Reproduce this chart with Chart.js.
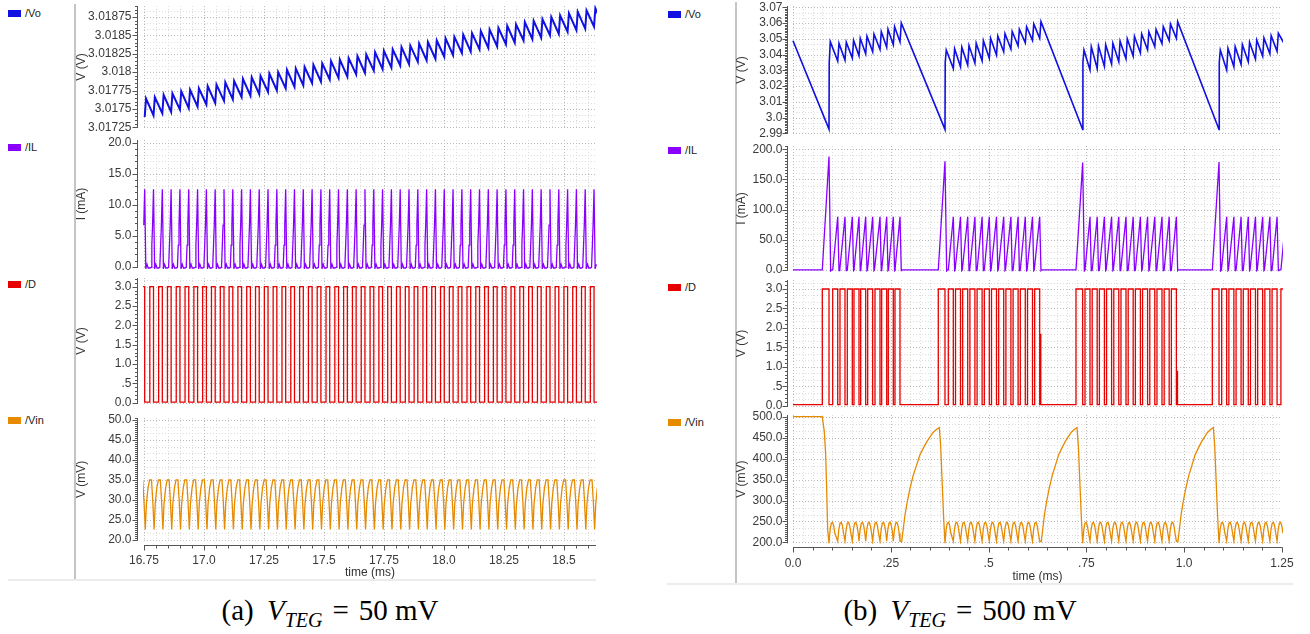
<!DOCTYPE html>
<html>
<head>
<meta charset="utf-8">
<script src="https://cdn.jsdelivr.net/npm/chart.js@4.4.1/dist/chart.umd.min.js"></script>
<style>
  body { margin: 0; width: 1310px; height: 634px; background: #fff; position: relative; overflow: hidden; font-family: "Liberation Sans", Arial, sans-serif; }
  canvas { position: absolute; }
  .sep { position: absolute; background: #c4c4c4; width: 1.5px; }
  .base { position: absolute; background: #ececec; height: 2px; }
  .leg { position: absolute; height: 14px; display: flex; align-items: center; font-size: 11px; color: #222; }
  .leg span { display: inline-block; width: 13px; height: 7px; margin-right: 4px; }
  .cap { position: absolute; width: 440px; text-align: center; font-family: "Liberation Serif", serif; font-size: 29px; color: #000; white-space: nowrap; }
  .cap sub { font-size: 20px; }
  .cap .eq { margin: 0 10px; }
  .cap .sp { margin-left: 6px; }
</style>
</head>
<body>
<div class="sep" style="left:74px;top:4px;height:576px"></div>
<div class="sep" style="left:735px;top:2px;height:582px"></div>
<div class="base" style="left:8px;top:579px;width:588px"></div>
<div class="base" style="left:667px;top:583px;width:626px"></div>

<div class="leg" style="left:8px;top:6px"><span style="background:#1010e0"></span>/Vo</div>
<div class="leg" style="left:8px;top:140px"><span style="background:#8a00ff"></span>/IL</div>
<div class="leg" style="left:8px;top:277px"><span style="background:#e60000"></span>/D</div>
<div class="leg" style="left:8px;top:413px"><span style="background:#e68a00"></span>/Vin</div>
<div class="leg" style="left:668px;top:7px"><span style="background:#1010e0"></span>/Vo</div>
<div class="leg" style="left:668px;top:143px"><span style="background:#8a00ff"></span>/IL</div>
<div class="leg" style="left:668px;top:280px"><span style="background:#e60000"></span>/D</div>
<div class="leg" style="left:668px;top:415px"><span style="background:#e68a00"></span>/Vin</div>

<div class="cap" style="left:110px;top:594px">(a)<span class="sp"></span> <i>V</i><sub><i>TEG</i></sub><span class="eq">=</span>50 mV</div>
<div class="cap" style="left:740px;top:594px">(b)<span class="sp"></span> <i>V</i><sub><i>TEG</i></sub><span class="eq">=</span>500 mV</div>

<script>
// ---------- (a) V_TEG = 50 mV, time in ms ----------
// switch turn-on instants
const leftCycle = [
  16.7375, 16.7742, 16.8109, 16.8476, 16.8843, 16.9210, 16.9578, 16.9945, 17.0312, 17.0679,
  17.1046, 17.1413, 17.1780, 17.2147, 17.2514, 17.2881, 17.3249, 17.3616, 17.3983, 17.4350,
  17.4717, 17.5084, 17.5451, 17.5818, 17.6185, 17.6552, 17.6920, 17.7287, 17.7654, 17.8021,
  17.8388, 17.8755, 17.9122, 17.9489, 17.9856, 18.0223, 18.0591, 18.0958, 18.1325, 18.1692,
  18.2059, 18.2426, 18.2793, 18.3160, 18.3527, 18.3894, 18.4262, 18.4629, 18.4996, 18.5363,
  18.5730, 18.6097, 18.6464
];
const leftVoTrough = [
  3.01739, 3.01741, 3.01744, 3.01746, 3.01749, 3.01751, 3.01753, 3.01756, 3.01758, 3.01761,
  3.01763, 3.01766, 3.01768, 3.01770, 3.01773, 3.01775, 3.01778, 3.01780, 3.01782, 3.01785,
  3.01787, 3.01790, 3.01792, 3.01794, 3.01797, 3.01799, 3.01802, 3.01804, 3.01806, 3.01809,
  3.01811, 3.01814, 3.01816, 3.01818, 3.01821, 3.01823, 3.01826, 3.01828, 3.01831, 3.01833,
  3.01835, 3.01838, 3.01840, 3.01843, 3.01845, 3.01847, 3.01850, 3.01852, 3.01855, 3.01857,
  3.01859, 3.01862, 3.01864
];
const leftVoPeak = [
  3.01764, 3.01766, 3.01769, 3.01771, 3.01774, 3.01776, 3.01778, 3.01781, 3.01783, 3.01786,
  3.01788, 3.01791, 3.01793, 3.01795, 3.01798, 3.01800, 3.01803, 3.01805, 3.01807, 3.01810,
  3.01812, 3.01815, 3.01817, 3.01819, 3.01822, 3.01824, 3.01827, 3.01829, 3.01831, 3.01834,
  3.01836, 3.01839, 3.01841, 3.01843, 3.01846, 3.01848, 3.01851, 3.01853, 3.01856, 3.01858,
  3.01860, 3.01863, 3.01865, 3.01868, 3.01870, 3.01872, 3.01875, 3.01877, 3.01880, 3.01882,
  3.01884, 3.01887
];
const leftVoAt = [0.0154, 0.0209];   // trough / peak offset inside a cycle
// one switching period: [offset ms, value]
const leftDShape = [[0, 0.02], [0, 3.0], [0.0154, 3.0], [0.0154, 0.02]];
const leftILShape = [[0, -0.2], [0.0050, -0.1], [0.0085, 3.5], [0.0115, 6.7], [0.0154, 12.5], [0.0200, -0.3], [0.0250, 0.4], [0.0300, -0.2]];
const leftVinShape = [[0.0071, 35.0], [0.0125, 29.5], [0.0179, 22.6], [0.0225, 29.0], [0.0292, 33.0], [0.0358, 35.0]];

const leftVoTicks = [3.01725, 3.0175, 3.01775, 3.018, 3.01825, 3.0185, 3.01875];
const leftVoLabels = ['3.01725', '3.0175', '3.01775', '3.018', '3.01825', '3.0185', '3.01875'];
const leftILTicks = [0, 5, 10, 15, 20];
const leftILLabels = ['0.0', '5.0', '10.0', '15.0', '20.0'];
const dTicks = [0, 0.5, 1, 1.5, 2, 2.5, 3];
const dLabels = ['0.0', '.5', '1.0', '1.5', '2.0', '2.5', '3.0'];
const leftVinTicks = [20, 25, 30, 35, 40, 45, 50];
const leftVinLabels = ['20.0', '25.0', '30.0', '35.0', '40.0', '45.0', '50.0'];
const leftTimeTicks = [16.75, 17, 17.25, 17.5, 17.75, 18, 18.25, 18.5];
const leftTimeLabels = ['16.75', '17.0', '17.25', '17.5', '17.75', '18.0', '18.25', '18.5'];

// ---------- (b) V_TEG = 500 mV ----------
const rSpikeRise = [0.0749, 0.3714, 0.7234, 1.0719];
const rSpikePeak = [0.0920, 0.3885, 0.7405, 1.0890];
const rSpikeIL = [188, 180, 178, 179];
// inductor current peaks (switch turn-off) inside each burst
const rBurst1 = [0.1143, 0.1329, 0.1516, 0.1687, 0.1858, 0.2037, 0.2224, 0.2395, 0.2564, 0.2735];
const rBurst2 = [0.4098, 0.4282, 0.4466, 0.4650, 0.4834, 0.5018, 0.5202, 0.5386, 0.5570, 0.5754, 0.5938, 0.6122, 0.6306];
const rBurst3 = [0.7592, 0.7776, 0.7960, 0.8144, 0.8328, 0.8512, 0.8696, 0.8880, 0.9064, 0.9248, 0.9432, 0.9616, 0.9800];
const rBurst4 = [1.1086, 1.1270, 1.1454, 1.1638, 1.1822, 1.2006, 1.2190, 1.2374, 1.2600];

const rVoStart = 3.0488;
const rVoLow = [2.9927, 2.9925, 2.9925, 2.9925];
const rVoMid = [3.0348, 3.0350, 3.0350, 3.0350];
const rVoTop = [3.0482, 3.0429, 3.0429, 3.0429];
const rVoTr1 = [3.0359, 3.0365, 3.0378, 3.0392, 3.0405, 3.0418, 3.0432, 3.0446, 3.0462, 3.0480];
const rVoPk1 = [3.0471, 3.0478, 3.0490, 3.0503, 3.0516, 3.0530, 3.0545, 3.0560, 3.0577, 3.0600];
const rVoTr2 = [3.0312, 3.0322, 3.0333, 3.0345, 3.0360, 3.0376, 3.0397, 3.0418, 3.0435, 3.0455, 3.0475, 3.0490, 3.0503];
const rVoPk2 = [3.0437, 3.0447, 3.0457, 3.0472, 3.0488, 3.0503, 3.0518, 3.0533, 3.0546, 3.0560, 3.0577, 3.0594, 3.0609];
const rVoTr3 = [3.0302, 3.0312, 3.0325, 3.0340, 3.0355, 3.0372, 3.0390, 3.0410, 3.0430, 3.0450, 3.0470, 3.0488, 3.0503];
const rVoPk3 = [3.0450, 3.0454, 3.0462, 3.0472, 3.0485, 3.0500, 3.0515, 3.0530, 3.0545, 3.0560, 3.0577, 3.0594, 3.0609];
const rVoTr4 = [3.0302, 3.0323, 3.0338, 3.0355, 3.0372, 3.0390, 3.0405, 3.0420, 3.0450];
const rVoPk4 = [3.0439, 3.0450, 3.0463, 3.0478, 3.0492, 3.0505, 3.0520, 3.0535];

const rDShape = [[-0.0128, 0.03], [-0.0128, 3.0], [0, 3.0], [0, 0.03]];
const rDGlitch = [[], [[0.6330, 0.03], [0.6332, 1.85], [0.6336, 0.03]], [[0.9825, 0.03], [0.9827, 0.90], [0.9831, 0.03]], []];
const rILShape = [[-0.0128, 0], [0, 88], [0.0033, -1], [0.0045, 0]];
const rVinShape = [[0, 203], [0.0030, 232], [0.0060, 246], [0.0090, 248], [0.0120, 240], [0.0150, 222]];
const rVinDrop = [
  [[0, 500], [0.0749, 500], [0.0800, 465], [0.0835, 410], [0.0860, 330], [0.0887, 230], [0.0920, 198]],
  [[0.3775, 430], [0.3810, 350], [0.3850, 260], [0.3885, 198]],
  [[0.7295, 430], [0.7330, 350], [0.7370, 260], [0.7405, 198]],
  [[1.0780, 430], [1.0815, 350], [1.0855, 260], [1.0890, 198]]
];
const rVinRecover = [
  [[0.2778, 202], [0.2863, 266], [0.2923, 298], [0.2991, 329], [0.3076, 361], [0.3162, 385], [0.3246, 409], [0.3332, 425], [0.3418, 440], [0.3502, 452], [0.3587, 463], [0.3673, 470], [0.3740, 474]],
  [[0.6347, 202], [0.6427, 266], [0.6484, 298], [0.6549, 329], [0.6630, 361], [0.6711, 385], [0.6791, 409], [0.6873, 425], [0.6954, 440], [0.7034, 452], [0.7115, 463], [0.7196, 470], [0.7260, 474]],
  [[0.9840, 202], [0.9920, 266], [0.9977, 298], [1.0041, 329], [1.0121, 361], [1.0201, 385], [1.0280, 409], [1.0361, 425], [1.0442, 440], [1.0521, 452], [1.0601, 463], [1.0682, 470], [1.0745, 474]]
];

const rVoTicks = [2.99, 3.0, 3.01, 3.02, 3.03, 3.04, 3.05, 3.06, 3.07];
const rVoLabels = ['2.99', '3.0', '3.01', '3.02', '3.03', '3.04', '3.05', '3.06', '3.07'];
const rILTicks = [0, 50, 100, 150, 200];
const rILLabels = ['0.0', '50.0', '100.0', '150.0', '200.0'];
const rVinTicks = [200, 250, 300, 350, 400, 450, 500];
const rVinLabels = ['200.0', '250.0', '300.0', '350.0', '400.0', '450.0', '500.0'];
const rTimeTicks = [0, 0.25, 0.5, 0.75, 1.0, 1.25];
const rTimeLabels = ['0.0', '.25', '.5', '.75', '1.0', '1.25'];

// ---------- build point lists ----------
const pt = (x, y) => ({x, y});
const repeat = (starts, shape) => {
  const out = [];
  starts.forEach(t => shape.forEach(([dt, v]) => out.push(pt(t + dt, v))));
  return out;
};

const leftVo = [];
leftCycle.forEach((t, i) => {
  leftVo.push(pt(t + leftVoAt[0], leftVoTrough[i]));
  if (i < leftVoPeak.length) leftVo.push(pt(t + leftVoAt[1], leftVoPeak[i]));
});
const leftD = repeat(leftCycle, leftDShape);
const leftIL = repeat(leftCycle, leftILShape);
const leftVin = repeat(leftCycle, leftVinShape);

const rBursts = [rBurst1, rBurst2, rBurst3, rBurst4];
const rVoTr = [rVoTr1, rVoTr2, rVoTr3, rVoTr4];
const rVoPk = [rVoPk1, rVoPk2, rVoPk3, rVoPk4];

const rVo = [pt(0, rVoStart)];
rBursts.forEach((b, i) => {
  const ts = rSpikePeak[i];
  rVo.push(pt(ts, rVoLow[i]), pt(ts + 0.0006, rVoMid[i]), pt(ts + 0.0033, rVoTop[i]));
  b.forEach((t, j) => {
    rVo.push(pt(t, rVoTr[i][j]));
    if (j < rVoPk[i].length) rVo.push(pt(t + 0.0033, rVoPk[i][j]));
  });
});

const rD = [pt(0, 0.03)];
const rIL = [pt(0, 0)];
rBursts.forEach((b, i) => {
  rD.push(pt(rSpikeRise[i], 0.03), pt(rSpikeRise[i], 3.0), pt(rSpikePeak[i], 3.0), pt(rSpikePeak[i], 0.03));
  rD.push(...repeat(b, rDShape));
  rDGlitch[i].forEach(([t, v]) => rD.push(pt(t, v)));
  rIL.push(pt(rSpikeRise[i], 0), pt(rSpikePeak[i], rSpikeIL[i]), pt(rSpikePeak[i] + 0.0043, -1.5), pt(rSpikePeak[i] + 0.006, 0));
  rIL.push(...repeat(b, rILShape));
});

const rVin = [];
rBursts.forEach((b, i) => {
  rVinDrop[i].forEach(([t, v]) => rVin.push(pt(t, v)));
  rVinShape.slice(1).forEach(([dt, v]) => rVin.push(pt(rSpikePeak[i] + dt, v)));
  const last = i < rVinRecover.length ? b.length - 1 : b.length;
  b.forEach((t, j) => {
    const shape = j < last ? rVinShape : rVinShape.slice(0, 1);
    shape.forEach(([dt, v]) => rVin.push(pt(t + dt, v)));
  });
  if (rVinRecover[i]) rVinRecover[i].forEach(([t, v]) => rVin.push(pt(t, v)));
});

// ---------- drawing ----------
const FONT = 'Liberation Sans';
const TICK_FONT = {family: FONT, size: 12};

function steps(majors, n, lo, hi) {
  const d = (majors[1] - majors[0]) / n;
  const out = [];
  let v = majors[0];
  while (v - d >= lo - 1e-12) v -= d;
  for (; v <= hi + 1e-12; v += d) out.push(v);
  return out;
}

const deco = {
  id: 'deco',
  beforeDatasetsDraw(chart, args, o) {
    const {ctx, chartArea: a, scales: {x, y}} = chart;
    ctx.save();
    ctx.beginPath();
    ctx.rect(a.left, a.top, a.right - a.left, a.bottom - a.top);
    ctx.clip();
    ctx.lineWidth = 1;
    ctx.setLineDash([1, 2]);
    const h = (v, c) => {
      const p = Math.round(y.getPixelForValue(v)) + 0.5;
      ctx.strokeStyle = c; ctx.beginPath(); ctx.moveTo(a.left, p); ctx.lineTo(a.right, p); ctx.stroke();
    };
    const w = (v, c) => {
      const p = Math.round(x.getPixelForValue(v)) + 0.5;
      ctx.strokeStyle = c; ctx.beginPath(); ctx.moveTo(p, a.top); ctx.lineTo(p, a.bottom); ctx.stroke();
    };
    steps(o.yMaj, o.yGrid, y.min, y.max).forEach(v => h(v, '#dcdcdc'));
    steps(o.xMaj, o.xGrid, x.min, x.max).forEach(v => w(v, '#dcdcdc'));
    o.yMaj.forEach(v => h(v, '#b9b9b9'));
    o.xMaj.forEach(v => w(v, '#b9b9b9'));
    ctx.restore();
  },
  afterDraw(chart, args, o) {
    const {ctx, chartArea: a, scales: {x, y}} = chart;
    ctx.save();
    ctx.strokeStyle = '#555';
    ctx.lineWidth = 1;
    ctx.beginPath();
    const ax = Math.round(a.left - o.gap) + 0.5;
    ctx.moveTo(ax, a.top); ctx.lineTo(ax, a.bottom);
    steps(o.yMaj, o.yTick, y.min, y.max).forEach(v => {
      const p = Math.round(y.getPixelForValue(v)) + 0.5;
      ctx.moveTo(ax, p); ctx.lineTo(ax - 2.5, p);
    });
    o.yMaj.forEach(v => {
      const p = Math.round(y.getPixelForValue(v)) + 0.5;
      ctx.moveTo(ax, p); ctx.lineTo(ax - 5, p);
    });
    if (o.showX) {
      const ay = Math.round(a.bottom + 4) + 0.5;
      ctx.moveTo(a.left, ay); ctx.lineTo(a.right, ay);
      steps(o.xMaj, o.xTick, x.min, x.max).forEach(v => {
        const p = Math.round(x.getPixelForValue(v)) + 0.5;
        ctx.moveTo(p, ay); ctx.lineTo(p, ay + 3);
      });
      o.xMaj.forEach(v => {
        const p = Math.round(x.getPixelForValue(v)) + 0.5;
        ctx.moveTo(p, ay); ctx.lineTo(p, ay + 5);
      });
    }
    ctx.stroke();
    ctx.restore();
  }
};

function subplot(g, s) {
  const M = 24;
  const showX = !!s.showX;
  const c = document.createElement('canvas');
  const top = g.top - M;
  const bottom = g.bottom + (showX ? g.xh : 0) + M;
  c.width = g.cw; c.height = bottom - top;
  c.style.left = g.cl + 'px'; c.style.top = top + 'px';
  document.body.appendChild(c);
  const yW = g.left - g.cl;
  new Chart(c, {
    type: 'line',
    data: {datasets: [{data: s.data, borderColor: s.color, borderWidth: s.lw, pointRadius: 0, tension: 0, fill: false, clip: 1}]},
    options: {
      responsive: false, animation: false, devicePixelRatio: 1, events: [], parsing: false,
      layout: {padding: {top: M, left: 0, right: g.cl + g.cw - g.right, bottom: M}},
      plugins: {
        legend: {display: false}, tooltip: {enabled: false},
        deco: {yMaj: s.yTicks, yGrid: s.yGrid, yTick: s.yTick, xMaj: g.xTicks, xGrid: g.xGrid, xTick: g.xTick, showX, gap: g.gap}
      },
      scales: {
        x: {
          type: 'linear', min: g.xMin, max: g.xMax, display: showX,
          afterFit: sc => { sc.height = showX ? g.xh : 0; },
          afterBuildTicks: sc => { sc.ticks = g.xTicks.map(v => ({value: v})); },
          grid: {display: true, color: 'transparent', drawTicks: true, tickLength: g.xtl, tickColor: 'transparent'},
          border: {display: false},
          ticks: {padding: 0, autoSkip: false, maxRotation: 0, font: TICK_FONT, color: '#3a3a3a', callback: (v, i) => g.xLabels[i]},
          title: {display: true, text: 'time (ms)', font: {family: FONT, size: 12}, color: '#333', padding: 0}
        },
        y: {
          type: 'linear', min: s.yMin, max: s.yMax,
          afterFit: sc => { sc.width = yW; },
          afterBuildTicks: sc => { sc.ticks = s.yTicks.map(v => ({value: v})); },
          grid: {display: true, color: 'transparent', drawTicks: true, tickLength: g.ytl, tickColor: 'transparent'},
          border: {display: false},
          ticks: {padding: 0, autoSkip: false, font: TICK_FONT, color: '#3a3a3a', callback: (v, i) => s.yLabels[i]},
          title: {display: true, text: s.title, font: {family: FONT, size: 12}, color: '#333', padding: 0}
        }
      }
    },
    plugins: [deco]
  });
}

const gLeft = {cl: 74, cw: 542, left: 144, right: 596, gap: 7, ytl: 12.5, xtl: 12.8, xh: 39.2,
  xMin: 16.75, xMax: 18.6333, xTicks: leftTimeTicks, xLabels: leftTimeLabels, xGrid: 5, xTick: 5};
const gRight = {cl: 734, cw: 568, left: 793, right: 1282, gap: 6, ytl: 10.5, xtl: 13.3, xh: 40.7,
  xMin: 0, xMax: 1.25, xTicks: rTimeTicks, xLabels: rTimeLabels, xGrid: 10, xTick: 5};

subplot({...gLeft, top: 6, bottom: 128}, {data: leftVo, color: '#1010e0', lw: 2, title: 'V (V)',
  yMin: 3.01724, yMax: 3.0189, yTicks: leftVoTicks, yLabels: leftVoLabels, yGrid: 3, yTick: 5});
subplot({...gLeft, top: 140, bottom: 268}, {data: leftIL, color: '#8a00ff', lw: 1.3, title: 'I (mA)',
  yMin: -0.2, yMax: 20.45, yTicks: leftILTicks, yLabels: leftILLabels, yGrid: 5, yTick: 5});
subplot({...gLeft, top: 278, bottom: 404}, {data: leftD, color: '#e60000', lw: 1.3, title: 'V (V)',
  yMin: -0.03, yMax: 3.225, yTicks: dTicks, yLabels: dLabels, yGrid: 3, yTick: 5});
subplot({...gLeft, top: 418, bottom: 541}, {data: leftVin, color: '#e68a00', lw: 1.3, title: 'V (mV)', showX: true,
  yMin: 19.75, yMax: 50.5, yTicks: leftVinTicks, yLabels: leftVinLabels, yGrid: 3, yTick: 10});

subplot({...gRight, top: 6, bottom: 134}, {data: rVo, color: '#1010e0', lw: 1.6, title: 'V (V)',
  yMin: 2.9896, yMax: 3.0708, yTicks: rVoTicks, yLabels: rVoLabels, yGrid: 3, yTick: 10});
subplot({...gRight, top: 146, bottom: 271}, {data: rIL, color: '#8a00ff', lw: 1.3, title: 'I (mA)',
  yMin: -1.7, yMax: 205.5, yTicks: rILTicks, yLabels: rILLabels, yGrid: 5, yTick: 10});
subplot({...gRight, top: 280, bottom: 407}, {data: rD, color: '#e60000', lw: 1.3, title: 'V (V)',
  yMin: -0.033, yMax: 3.231, yTicks: dTicks, yLabels: dLabels, yGrid: 3, yTick: 5});
subplot({...gRight, top: 415, bottom: 543.5}, {data: rVin, color: '#e68a00', lw: 1.3, title: 'V (mV)', showX: true,
  yMin: 198, yMax: 504, yTicks: rVinTicks, yLabels: rVinLabels, yGrid: 3, yTick: 10});
</script>
</body>
</html>
